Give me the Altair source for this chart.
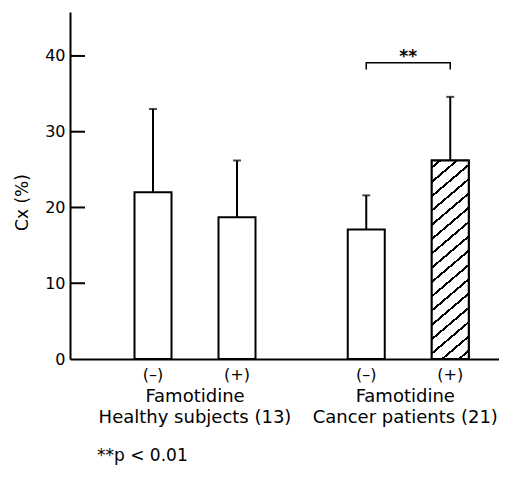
import altair as alt
import pandas as pd
import math

# ---------------- data ----------------
groups = ["Healthy subjects (13)", "Healthy subjects (13)",
          "Cancer patients (21)", "Cancer patients (21)"]
treatments = ["(–)", "(+)", "(–)", "(+)"]
means = [22.0, 18.7, 17.1, 26.2]
upper = [33.0, 26.2, 21.6, 34.6]
hatched = [False, False, False, True]

y_ticks = [0, 10, 20, 30, 40]
y_max = 45.8

bracket_group = ["Cancer patients (21)"] * 4
bracket_treat = ["(–)", "(–)", "(+)", "(+)"]
bracket_y = [38.2, 39.1, 39.1, 38.2]
sig_label = ["**"]
sig_group = ["Cancer patients (21)"]
sig_y = [40.4]

group_prefix = "Famotidine"
y_title = "Cx (%)"
note = ["**p < 0.01"]

# ---------------- layout / style ----------------
FONT = "DejaVu Sans"
W, H = 429, 347
group_order = list(dict.fromkeys(groups))
treat_order = list(dict.fromkeys(treatments))

BAR_W = 37.0
SUB_STEP = 84.0
GROUP_STEP = 213.25
FIRST_START = 64.5

pi2 = 1 - BAR_W / SUB_STEP
group_bw = SUB_STEP * (2 - pi2)
pi1 = 1 - group_bw / GROUP_STEP
po1 = (W / GROUP_STEP - 2 + pi1) / 2
align1 = FIRST_START / (W - GROUP_STEP * (2 - pi1))

x_scale = alt.Scale(domain=group_order, paddingInner=pi1, paddingOuter=po1, align=align1)
xo_scale = alt.Scale(domain=treat_order, paddingInner=pi2, paddingOuter=0)
y_scale = alt.Scale(domain=[0, y_max], nice=False, zero=True)

x_axis = alt.Axis(title=None, ticks=False, tickSize=0, labelPadding=28,
                  labelFont=FONT, labelFontSize=18, labelColor="black",
                  labelLineHeight=21, labelAngle=0, labelOverlap=False, labelLimit=0,
                  labelExpr="['" + group_prefix + "', datum.label]",
                  labelOffset={"condition": {"test": "datum.value == '" + group_order[-1] + "'",
                                             "value": -3},
                               "value": 0},
                  domainColor="black", domainWidth=2)
y_axis = alt.Axis(title=y_title, values=y_ticks, ticks=False, tickSize=0, grid=False,
                  labelFont=FONT, labelFontSize=16, labelColor="black", labelPadding=5,
                  domainColor="black", domainWidth=2,
                  titleFont=FONT, titleFontSize=17, titleFontWeight="normal",
                  titleColor="black", titleX=-48, titleY=190, titleAngle=270,
                  titleAlign="center", titleBaseline="middle")

x_enc = alt.X("group:N", scale=x_scale, axis=x_axis)
xo_enc = alt.XOffset("treatment:N", scale=xo_scale)

# hatch as a striped linear gradient (objectBoundingBox coordinates)
slope = 0.85
bar_h = means[3] / y_max * H
a = slope / bar_h
b = 1 / BAR_W
k = (a + b) / (a * a + b * b)
span = (BAR_W * slope + bar_h) / math.sqrt(1 + slope ** 2)
spacing = 14.3 / math.sqrt(1 + slope ** 2)
period = spacing / span
half = 1.0 / span
stops = [alt.GradientStop(color="white", offset=0)]
c = period * 0.5
while c < 1:
    lo, hi = max(0.0, c - half), min(1.0, c + half)
    stops += [alt.GradientStop(color="white", offset=lo),
              alt.GradientStop(color="black", offset=lo),
              alt.GradientStop(color="black", offset=hi),
              alt.GradientStop(color="white", offset=hi)]
    c += period
stops.append(alt.GradientStop(color="white", offset=1))
hatch_fill = alt.LinearGradient(gradient="linear", stops=stops, x1=0, y1=0, x2=k * a, y2=k * b)

# ---------------- charts ----------------
df = pd.DataFrame({"group": groups, "treatment": treatments, "mean": means,
                   "upper": upper, "hatched": hatched})
base = alt.Chart(df)

bars = base.mark_bar(fill="white", stroke="black", strokeWidth=2).encode(
    x=x_enc, xOffset=xo_enc, y=alt.Y("mean:Q", scale=y_scale, axis=y_axis))

hatch = base.transform_filter("datum.hatched").mark_bar(
    fill=hatch_fill, stroke="black", strokeWidth=2).encode(
    x=x_enc, xOffset=xo_enc, y=alt.Y("mean:Q", scale=y_scale, axis=y_axis))

err = base.mark_rule(color="black", strokeWidth=2).encode(
    x=x_enc, xOffset=xo_enc, y=alt.Y("mean:Q", scale=y_scale, axis=y_axis), y2="upper:Q")

caps = base.mark_tick(color="black", thickness=2, size=8).encode(
    x=x_enc, xOffset=xo_enc, y=alt.Y("upper:Q", scale=y_scale, axis=y_axis))

treat_labels = base.mark_text(font=FONT, fontSize=16, color="black", baseline="middle").encode(
    x=x_enc, xOffset=xo_enc, y=alt.value(363), text="treatment:N")

tick_df = pd.DataFrame({"v": y_ticks[1:]})
yticks = alt.Chart(tick_df).mark_rule(color="black", strokeWidth=2).encode(
    y=alt.Y("v:Q", scale=y_scale, axis=y_axis), x=alt.value(0), x2=alt.value(15))

br_df = pd.DataFrame({"group": bracket_group, "treatment": bracket_treat,
                      "y": bracket_y, "i": list(range(len(bracket_y)))})
bracket = alt.Chart(br_df).mark_line(color="black", strokeWidth=1.5).encode(
    x=x_enc, xOffset=xo_enc, y=alt.Y("y:Q", scale=y_scale, axis=y_axis), order="i:Q")

sig_df = pd.DataFrame({"group": sig_group, "y": sig_y, "t": sig_label})
sig = alt.Chart(sig_df).mark_text(font=FONT, fontSize=17, fontWeight="bold", color="black",
                                  baseline="middle", dy=4).encode(
    x=x_enc, y=alt.Y("y:Q", scale=y_scale, axis=y_axis), text="t:N")

note_df = pd.DataFrame({"t": note})
note_txt = alt.Chart(note_df).mark_text(font=FONT, fontSize=17, color="black",
                                        align="left", baseline="alphabetic").encode(
    x=alt.value(27), y=alt.value(449), text="t:N")

chart = alt.layer(bars, hatch, err, caps, yticks, bracket, sig, treat_labels, note_txt).properties(
    width=W, height=H,
    padding={"left": 62, "top": 4, "right": 0, "bottom": 107},
    autosize=alt.AutoSizeParams(type="none"),
    background="white",
).configure(font=FONT, view=alt.ViewConfig(strokeWidth=0))

chart.save("out.html", embed_options={"renderer": "svg", "actions": False})
